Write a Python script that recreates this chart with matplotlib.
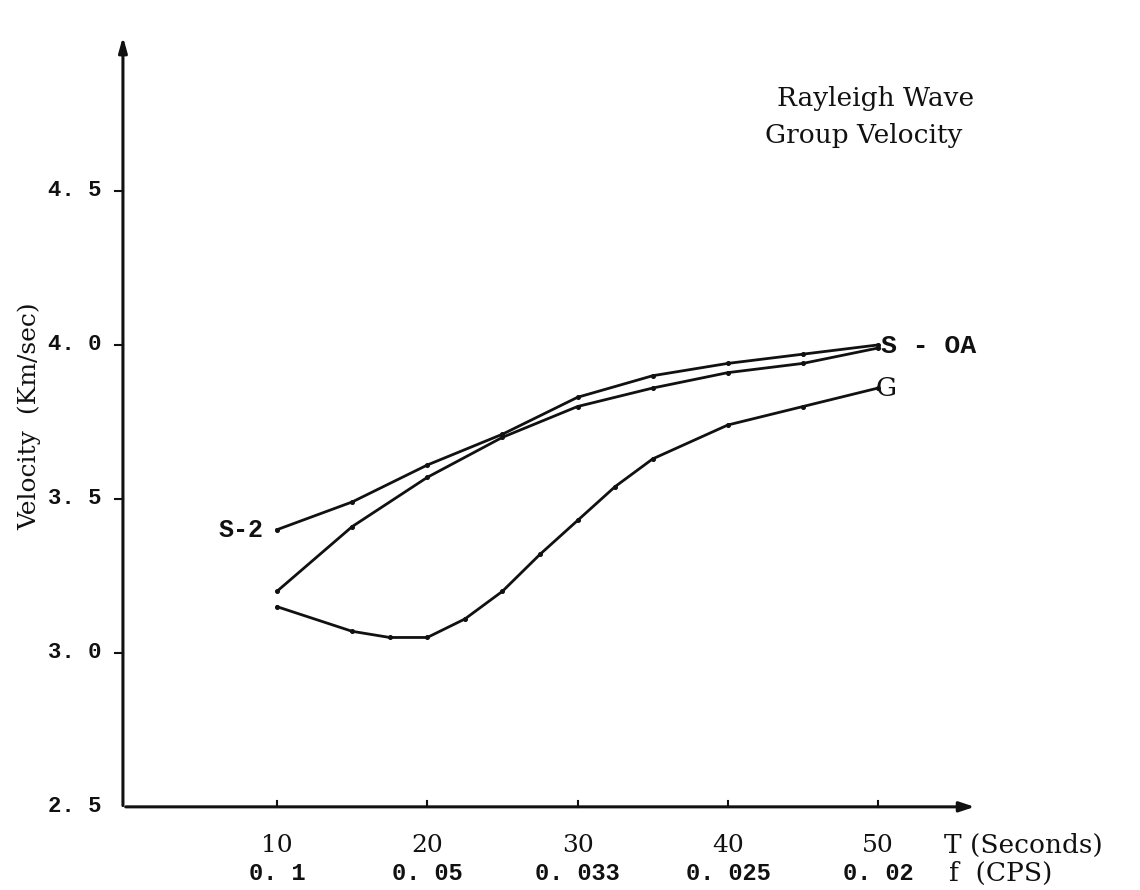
import matplotlib
matplotlib.use("Agg")
import matplotlib.pyplot as plt

# ---- data ----
period_s = [10, 15, 20, 25, 30, 35, 40, 45, 50]
s2_vel = [3.40, 3.49, 3.61, 3.71, 3.83, 3.90, 3.94, 3.97, 4.00]
soa_vel = [3.20, 3.41, 3.57, 3.70, 3.80, 3.86, 3.91, 3.94, 3.99]
g_period = [10, 15, 17.5, 20, 22.5, 25, 27.5, 30, 32.5, 35, 40, 45, 50]
g_vel = [3.15, 3.07, 3.05, 3.05, 3.11, 3.20, 3.32, 3.43, 3.54, 3.63, 3.74, 3.80, 3.86]

x_ticks = [10, 20, 30, 40, 50]
x_labels_T = ["10", "20", "30", "40", "50"]
x_labels_f = ["0. 1", "0. 05", "0. 033", "0. 025", "0. 02"]
y_ticks = [2.5, 3.0, 3.5, 4.0, 4.5]
y_labels = ["2. 5", "3. 0", "3. 5", "4. 0", "4. 5"]

fig = plt.figure(figsize=(11.4, 8.9), dpi=100)
ax = fig.add_axes([0, 0, 1, 1])
ax.set_xlim(-8.43, 67.42)
ax.set_ylim(2.23, 5.12)
ax.axis("off")

ink = "#111111"
x0 = -0.25   # y-axis position (data units)
y0 = 2.5     # x-axis position

# axes with arrows
ax.annotate("", xy=(56.6, y0), xytext=(x0, y0),
            arrowprops=dict(arrowstyle="-|>,head_length=0.9,head_width=0.3", color=ink, lw=2.2))
ax.annotate("", xy=(x0, 5.01), xytext=(x0, y0 - 0.005),
            arrowprops=dict(arrowstyle="-|>,head_length=0.9,head_width=0.25", color=ink, lw=2.2))

# ticks
for t in x_ticks:
    ax.plot([t, t], [y0, y0 + 0.02], color=ink, lw=1.5)
for v in y_ticks[1:]:
    ax.plot([x0 - 0.5, x0], [v, v], color=ink, lw=1.5)

serif = ["DejaVu Serif"]
mono = ["Liberation Mono", "DejaVu Sans Mono"]

# tick labels
for t, lt, lf in zip(x_ticks, x_labels_T, x_labels_f):
    ax.text(t, 2.375, lt, ha="center", va="center", fontsize=18, family=serif, color=ink)
    ax.text(t, 2.283, lf, ha="center", va="center", fontsize=17, family=mono,
            weight="bold", color=ink)
ax.text(54.4, 2.375, "T (Seconds)", ha="left", va="center", fontsize=19, family=serif, color=ink)
ax.text(54.7, 2.283, "f  (CPS)", ha="left", va="center", fontsize=19, family=serif, color=ink)

for v, lab in zip(y_ticks, y_labels):
    ax.text(x0 - 1.4, v, lab, ha="right", va="center", fontsize=16, family=mono,
            weight="bold", color=ink)

ax.text(-6.5, 3.77, "Velocity  (Km/sec)", rotation=90, ha="center", va="center",
        fontsize=18, family=serif, color=ink)

ax.text(43.3, 4.80, "Rayleigh Wave", ha="left", va="center",
        fontsize=19, family=serif, color=ink)
ax.text(42.5, 4.68, "Group Velocity", ha="left", va="center",
        fontsize=19, family=serif, color=ink)

# curves
for xs, ys in [(period_s, s2_vel), (period_s, soa_vel), (g_period, g_vel)]:
    ax.plot(xs, ys, color=ink, lw=2.0, marker="o", markersize=2.6, solid_joinstyle="round")

# curve labels
ax.text(9.1, s2_vel[0], "S-2", ha="right", va="center", fontsize=18, family=mono,
        weight="bold", color=ink)
ax.text(50.2, soa_vel[-1] + 0.005, "S - OA", ha="left", va="center", fontsize=19, family=mono,
        weight="bold", color=ink)
ax.text(49.8, g_vel[-1], "G", ha="left", va="center", fontsize=19, family=serif, color=ink)

fig.savefig("out.png", dpi=100)
